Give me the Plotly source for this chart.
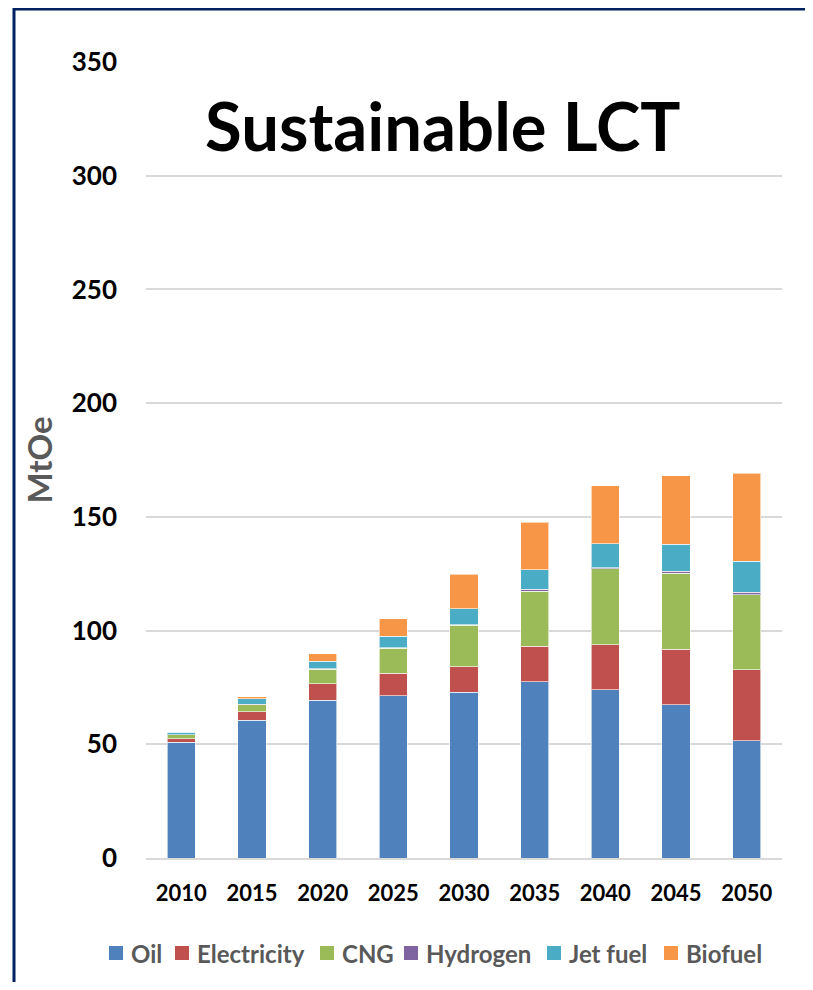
import plotly.graph_objects as go

# MtOe by fuel
years = ["2010", "2015", "2020", "2025", "2030", "2035", "2040", "2045", "2050"]
oil = [50.9, 60.5, 69.3, 71.4, 72.9, 77.4, 73.9, 67.3, 51.5]
electricity = [1.6, 3.8, 7.4, 9.8, 11.2, 15.7, 19.9, 24.5, 31.2]
cng = [1.6, 3.0, 6.3, 11.1, 18.2, 24.3, 33.3, 33.5, 33.0]
hydrogen = [0.1, 0.2, 0.2, 0.2, 0.3, 0.8, 0.6, 0.7, 1.1]
jet_fuel = [1.0, 2.5, 3.4, 5.1, 7.1, 8.6, 10.4, 11.9, 13.7]
biofuel = [0.2, 1.0, 3.2, 7.7, 15.0, 20.8, 25.5, 30.1, 38.7]

y_ticks = [0, 50, 100, 150, 200, 250, 300, 350]

series = [
    ("Oil", oil, "#4F81BD"),
    ("Electricity", electricity, "#C0504D"),
    ("CNG", cng, "#9BBB59"),
    ("Hydrogen", hydrogen, "#8064A2"),
    ("Jet fuel", jet_fuel, "#4BACC6"),
    ("Biofuel", biofuel, "#F79646"),
]

FONT = "Lato"
W, H = 797, 974          # page body adds an 8px margin all round
L, R, T, B = 138, 23, 54, 124
PW, PH = W - L - R, H - T - B


def px_x(x):
    return (x - L) / PW


def px_y(y):
    return (H - B - y) / PH


fig = go.Figure()
for name, vals, color in series:
    fig.add_trace(
        go.Bar(
            x=years,
            y=vals,
            name=name,
            showlegend=False,
            marker=dict(color=color, line=dict(color="rgba(255,255,255,0.6)", width=1)),
        )
    )

fig.update_layout(
    width=W,
    height=H,
    barmode="stack",
    bargap=0.6,
    plot_bgcolor="white",
    paper_bgcolor="white",
    margin=dict(l=L, r=R, t=T, b=B),
    font=dict(family=FONT, color="black"),
)

fig.update_yaxes(
    range=[0, 350],
    tickvals=y_ticks,
    showgrid=True,
    gridcolor="#D9D9D9",
    gridwidth=1.5,
    zeroline=False,
    showline=False,
    ticks="",
    ticklabelstandoff=28,
    tickfont=dict(family=FONT, size=26, color="black", weight="bold"),
    title=dict(
        text="MtOe",
        standoff=9,
        font=dict(family=FONT, size=33, color="#595959", weight="bold"),
    ),
)
fig.update_xaxes(
    showline=True,
    linecolor="#D9D9D9",
    linewidth=2,
    ticks="",
    ticklabelstandoff=15,
    tickfont=dict(family=FONT, size=22, color="black", weight="bold"),
)

fig.add_annotation(
    text="Sustainable LCT",
    x=px_x(434),
    xref="paper",
    y=322.3,
    yref="y",
    xanchor="center",
    yanchor="middle",
    showarrow=False,
    font=dict(family=FONT, size=67, color="black", weight="bold"),
)

# legend row below the axis, Excel style: small square + grey bold label
legend_left = [101, 167, 312, 396, 539, 656]
legend_y = 945
for (name, _, color), x0 in zip(series, legend_left):
    fig.add_shape(
        type="rect", xref="paper", yref="paper",
        x0=px_x(x0), x1=px_x(x0 + 14),
        y0=px_y(legend_y + 7), y1=px_y(legend_y - 7),
        fillcolor=color, line=dict(width=0),
    )
    fig.add_annotation(
        text=name, xref="paper", yref="paper",
        x=px_x(x0 + 20), y=px_y(legend_y),
        xanchor="left", yanchor="middle", showarrow=False,
        font=dict(family=FONT, size=24, color="#595959", weight="bold"),
    )

# dark frame around the chart (left and top edges visible in the picture)
frame = dict(color="#002060", width=3)
fig.add_shape(type="line", xref="paper", yref="paper",
              x0=px_x(6), x1=px_x(6), y0=px_y(H + 10), y1=px_y(0), line=frame)
fig.add_shape(type="line", xref="paper", yref="paper",
              x0=px_x(6), x1=px_x(W + 10), y0=px_y(1), y1=px_y(1), line=frame)

fig.write_html("out.html", config={"displayModeBar": False})
